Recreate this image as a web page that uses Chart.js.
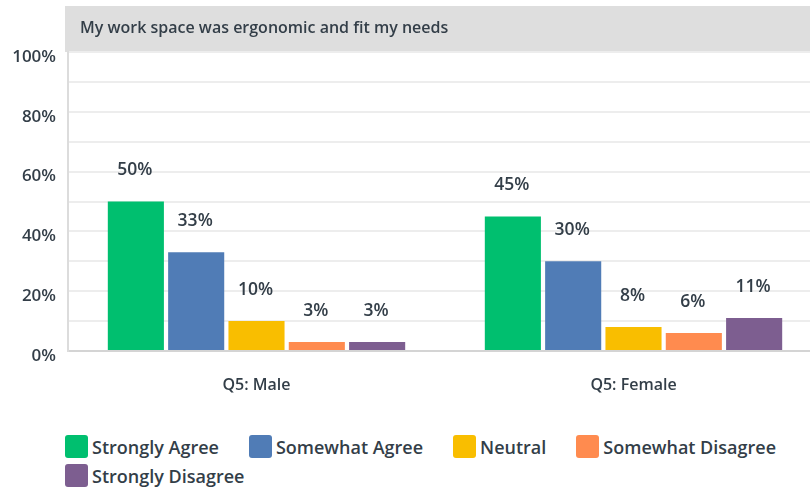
<!DOCTYPE html>
<html lang="en">
<head>
<meta charset="UTF-8">
<title>My work space was ergonomic and fit my needs</title>
<script src="https://cdn.jsdelivr.net/npm/chart.js"></script>
<style>
  html, body {
    margin: 0;
    padding: 0;
    background: #fff;
    overflow: hidden;
  }
  .wrap {
    position: relative;
    width: 822px;
    height: 489px;
  }
  #chart-box {
    position: absolute;
    left: 0;
    top: 0;
    width: 822px;
    height: 420px;
  }
  #legend {
    position: absolute;
    left: 65px;
    top: 435px;
    width: 745px;
    display: flex;
    flex-wrap: wrap;
    column-gap: 30px;
    row-gap: 6px;
    font-family: "Open Sans", sans-serif;
    font-weight: 600;
    font-size: 18px;
    color: #333e48;
  }
  #legend .item {
    display: flex;
    align-items: center;
    height: 23px;
  }
  #legend .swatch {
    width: 23px;
    height: 23px;
    border-radius: 3px;
    margin-right: 4px;
  }
</style>
</head>
<body>

<div class="wrap">
  <div id="chart-box"><canvas id="ergo-chart"></canvas></div>
  <div id="legend"></div>
</div>

<script>
  const titleText = 'My work space was ergonomic and fit my needs';
  const groups = ['Q5: Male', 'Q5: Female'];

  // one array per answer, values for [male, female] in percent
  const stronglyAgree = [50, 45];
  const somewhatAgree = [33, 30];
  const neutral = [10, 8];
  const somewhatDisagree = [3, 6];
  const stronglyDisagree = [3, 11];

  const answerNames = ['Strongly Agree', 'Somewhat Agree', 'Neutral', 'Somewhat Disagree', 'Strongly Disagree'];
  const answerColors = ['#00bf6f', '#507cb6', '#f9be00', '#ff8b4f', '#7d5e90'];

  const yTicks = [0, 20, 40, 60, 80, 100];

  const textColor = '#333e48';
  const fontFamily = '"Open Sans", sans-serif';

  const series = [stronglyAgree, somewhatAgree, neutral, somewhatDisagree, stronglyDisagree];

  // gray header strip with the question text
  const headerBar = {
    id: 'headerBar',
    beforeDraw(chart) {
      const ctx = chart.ctx;
      const left = chart.chartArea.left - 3;
      ctx.save();
      ctx.fillStyle = '#dedede';
      ctx.fillRect(left, 6, chart.width - left, 46);
      ctx.fillStyle = textColor;
      ctx.font = '600 16px ' + fontFamily;
      ctx.textBaseline = 'middle';
      ctx.fillText(titleText, left + 15, 28);
      ctx.restore();
    }
  };

  // percentage text over each bar
  const barValues = {
    id: 'barValues',
    afterDatasetsDraw(chart) {
      const ctx = chart.ctx;
      ctx.save();
      ctx.fillStyle = textColor;
      ctx.font = '600 17.5px ' + fontFamily;
      ctx.textAlign = 'center';
      ctx.textBaseline = 'middle';
      chart.data.datasets.forEach((ds, i) => {
        chart.getDatasetMeta(i).data.forEach((bar, j) => {
          ctx.fillText(ds.data[j] + '%', bar.x - 1, bar.y - 31);
        });
      });
      ctx.restore();
    }
  };

  new Chart(document.getElementById('ergo-chart'), {
    type: 'bar',
    data: {
      labels: groups,
      datasets: series.map((vals, i) => ({
        label: answerNames[i],
        data: vals,
        backgroundColor: answerColors[i],
        borderWidth: 0,
        categoryPercentage: 0.8,
        barPercentage: 0.93
      }))
    },
    options: {
      responsive: true,
      maintainAspectRatio: false,
      animation: false,
      layout: { padding: { top: 52, left: 0, right: 0, bottom: 0 } },
      plugins: {
        legend: { display: false },
        tooltip: { enabled: false }
      },
      scales: {
        x: {
          grid: { display: false },
          border: { color: '#d4d4d4', width: 2 },
          ticks: {
            color: textColor,
            font: { family: fontFamily, size: 16, weight: '600' },
            padding: 17
          },
          afterFit(scale) { scale.height = 69; }
        },
        y: {
          min: 0,
          max: 100,
          ticks: {
            stepSize: 10,
            padding: 12,
            labelOffset: 5,
            color: textColor,
            font: { family: fontFamily, size: 17, weight: '600' },
            callback: v => yTicks.includes(v) ? v + '%' : ''
          },
          grid: { color: '#ededed', lineWidth: 2, drawTicks: false },
          border: { color: '#dcdcdc', width: 2 },
          afterFit(scale) { scale.width = 68; }
        }
      }
    },
    plugins: [headerBar, barValues]
  });

  // legend rows under the chart
  const legendBox = document.getElementById('legend');
  answerNames.forEach((name, i) => {
    const item = document.createElement('div');
    item.className = 'item';
    const sw = document.createElement('span');
    sw.className = 'swatch';
    sw.style.background = answerColors[i];
    const txt = document.createElement('span');
    txt.textContent = name;
    item.appendChild(sw);
    item.appendChild(txt);
    legendBox.appendChild(item);
  });
</script>

</body>
</html>
